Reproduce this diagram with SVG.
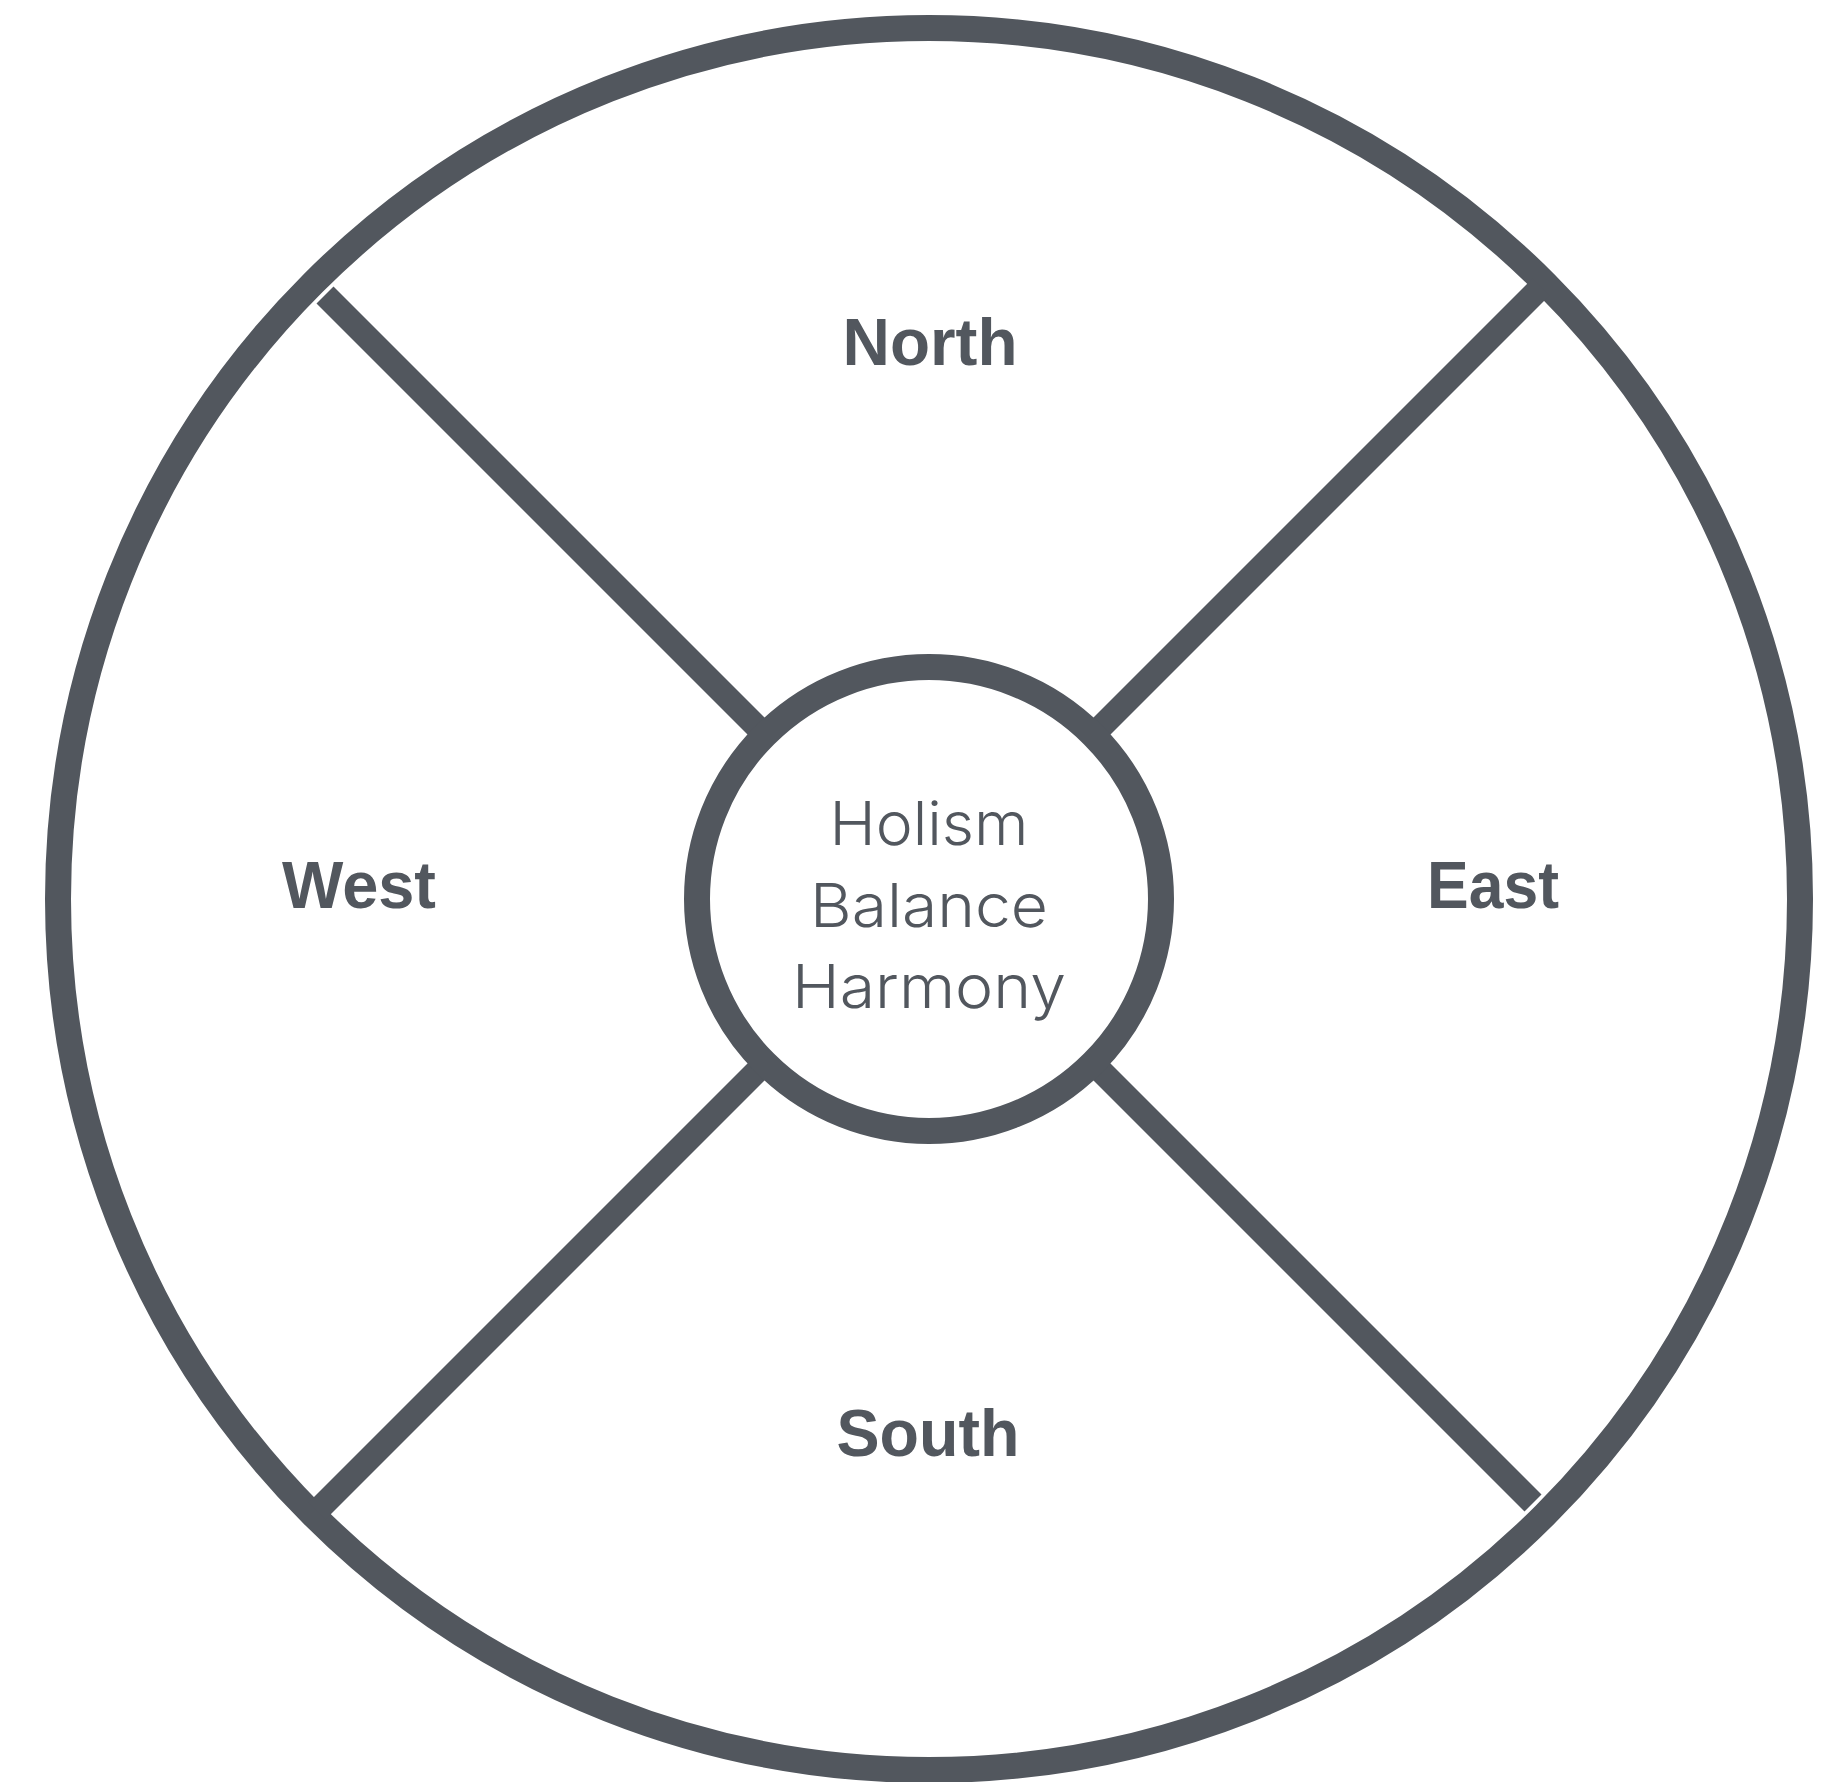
<svg xmlns="http://www.w3.org/2000/svg" width="1834" height="1782" viewBox="0 0 1834 1782">
  <style>
    .ring { fill: none; stroke: #52575e; stroke-width: 26; }
    .spoke { stroke: #52575e; stroke-width: 24; stroke-linecap: butt; fill: none; }
    .dir { font-family: "Liberation Sans", Arial, sans-serif; font-weight: bold; font-size: 66px; fill: #52575e; text-anchor: middle; }
    .core { font-family: "Inter", "Liberation Sans", sans-serif; font-weight: 300; font-size: 61px; fill: #52575e; text-anchor: middle; }
  </style>
  <rect width="1834" height="1782" fill="#ffffff"/>
  <g id="outer-circle">
    <circle class="ring" cx="929" cy="899" r="871"/>
  </g>
  <g id="connectors">
    <line class="spoke" x1="763" y1="733" x2="325" y2="295"/>
    <line class="spoke" x1="1095" y1="733" x2="1541" y2="287"/>
    <line class="spoke" x1="763" y1="1065" x2="317" y2="1511"/>
    <line class="spoke" x1="1095" y1="1065" x2="1533" y2="1503"/>
  </g>
  <g id="center">
    <circle class="ring" cx="929" cy="899" r="232"/>
    <text class="core" x="929" y="845" textLength="199" lengthAdjust="spacingAndGlyphs">Holism</text>
    <text class="core" x="929" y="927" textLength="238" lengthAdjust="spacingAndGlyphs">Balance</text>
    <text class="core" x="929" y="1008" textLength="274" lengthAdjust="spacingAndGlyphs">Harmony</text>
  </g>
  <g id="north">
    <text class="dir" x="930" y="365" textLength="175" lengthAdjust="spacingAndGlyphs">North</text>
  </g>
  <g id="west">
    <text class="dir" x="359" y="908" textLength="154" lengthAdjust="spacingAndGlyphs">West</text>
  </g>
  <g id="east">
    <text class="dir" x="1493" y="908" textLength="132" lengthAdjust="spacingAndGlyphs">East</text>
  </g>
  <g id="south">
    <text class="dir" x="928" y="1456" textLength="183" lengthAdjust="spacingAndGlyphs">South</text>
  </g>
</svg>
